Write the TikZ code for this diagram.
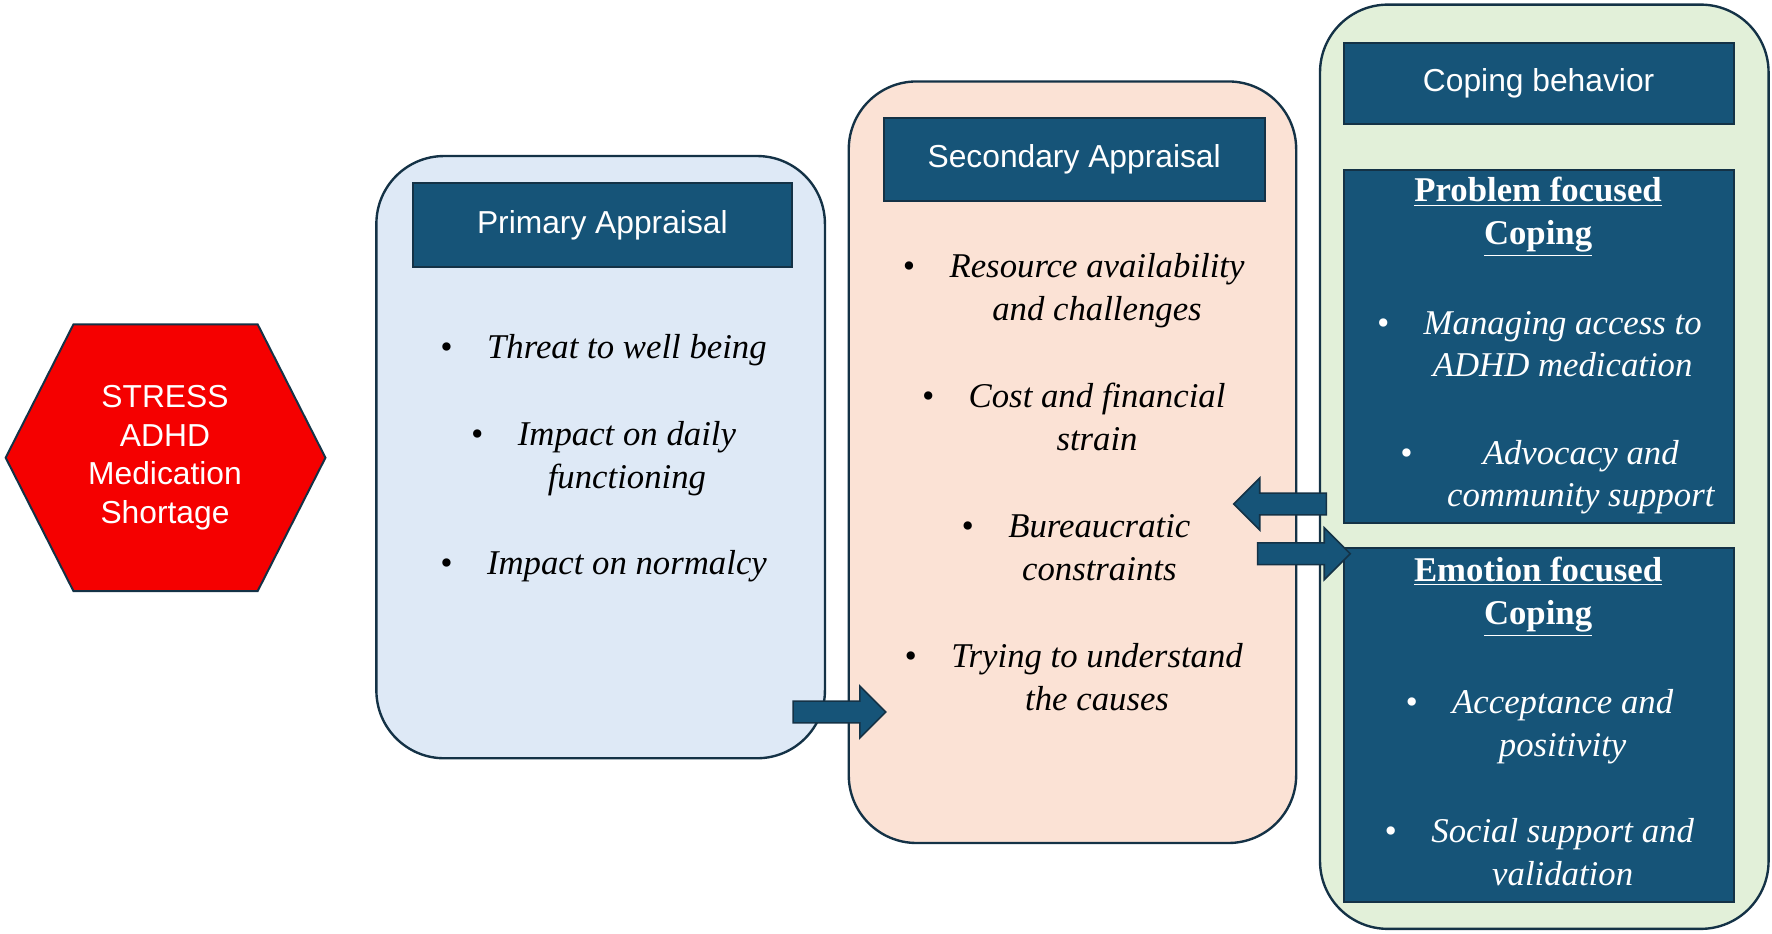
\documentclass[tikz,border=0pt]{standalone}
\usepackage{fontspec}
\setmainfont{Liberation Serif}
\setsansfont{Liberation Sans}
\usetikzlibrary{shapes.arrows,shapes.geometric}
\definecolor{teal}{RGB}{22,84,120}
\definecolor{edge}{RGB}{20,50,70}
\definecolor{pblue}{RGB}{222,233,246}
\definecolor{ppink}{RGB}{251,226,213}
\definecolor{pgreen}{RGB}{226,240,217}
\definecolor{hexred}{RGB}{245,0,0}
\tikzset{
  panel/.style={draw=edge,line width=1.2pt,rounded corners=1.2cm,inner sep=0},
  head/.style={draw=edge,line width=1pt,fill=teal,text=white,inner sep=0,
    font=\sffamily\fontsize{16}{19}\selectfont},
  item/.style={font=\itshape\fontsize{17.5}{21.6}\selectfont,align=center},
  itemw/.style={item,text=white},
  titlew/.style={text=white,font=\bfseries\fontsize{17.5}{21.6}\selectfont,align=center},
  blockarrow/.style={single arrow,draw=edge,fill=teal,line width=0.8pt,
    minimum height=1.64cm,minimum width=0.92cm,single arrow head extend=0.2cm,
    inner sep=0.13cm}
}
\newcommand{\bul}[2]{\begin{tabular}{@{}c@{\quad}c@{}}\textbullet & #1\\ & #2\end{tabular}}
\begin{document}
\begin{tikzpicture}[x=0.02cm,y=-0.02cm]
  \useasboundingbox (0,0) rectangle (1568,826);
  % stressor
  \fill[hexred] (65,287) -- (228,287) -- (288,405) -- (228,523) -- (65,523) -- (5,405) -- cycle;
  \draw[edge,line width=1pt] (65,287) -- (228,287) -- (288,405) -- (228,523) -- (65,523) -- (5,405) -- cycle;
  \node[text=white,align=center,font=\sffamily\fontsize{16}{19.5}\selectfont] (stress) at (146,405)
    {STRESS\\ADHD\\Medication\\Shortage};

  % primary appraisal
  \node[panel,fill=pblue,minimum width=7.94cm,minimum height=10.66cm] (prim) at (531.5,404.5) {};
  \node[head,minimum width=6.72cm,minimum height=1.48cm] (primhead) at (533,199) {Primary Appraisal};
  \node[item] (p1) at (534,310) {\textbullet\quad Threat to well being};
  \node[item] (p2) at (534,406) {\bul{Impact on daily}{functioning}};
  \node[item] (p3) at (534,501) {\textbullet\quad Impact on normalcy};

  % secondary appraisal
  \node[panel,fill=ppink,minimum width=7.92cm,minimum height=13.48cm] (sec) at (949,409) {};
  \node[head,minimum width=6.74cm,minimum height=1.48cm] (sechead) at (950.5,141) {Secondary Appraisal};
  \node[item] (s1) at (950,257) {\bul{Resource availability}{and challenges}};
  \node[item] (s2) at (950,372) {\bul{Cost and financial}{strain}};
  \node[item] (s3) at (952,487) {\bul{Bureaucratic}{constraints}};
  \node[item] (s4) at (950,602) {\bul{Trying to understand}{the causes}};

  % coping
  \node[panel,fill=pgreen,minimum width=7.94cm,minimum height=16.36cm] (cop) at (1366.5,413) {};
  \node[head,minimum width=6.9cm,minimum height=1.44cm] (cophead) at (1361.5,74) {Coping behavior};
  \node[head,minimum width=6.9cm,minimum height=6.26cm] (prob) at (1361.5,306.5) {};
  \node[head,minimum width=6.9cm,minimum height=6.26cm] (emo) at (1361.5,641.5) {};
  \node[titlew] (probtitle) at (1361,192) {\underline{Problem focused}\\\underline{Coping}};
  \node[itemw] (c1) at (1362,307) {\bul{Managing access to}{ADHD medication}};
  \node[itemw] (c2) at (1378,422) {\bul{Advocacy and}{community support}};
  \node[titlew] (emotitle) at (1361,528) {\underline{Emotion focused}\\\underline{Coping}};
  \node[itemw] (c3) at (1362,643) {\bul{Acceptance and}{positivity}};
  \node[itemw] (c4) at (1362,757) {\bul{Social support and}{validation}};

  % arrows
  \node[blockarrow] (a1) at (738,630) {};
  \node[blockarrow,shape border rotate=180] (a2) at (1137.5,446) {};
  \node[blockarrow] (a3) at (1149,490) {};
\end{tikzpicture}
\end{document}
